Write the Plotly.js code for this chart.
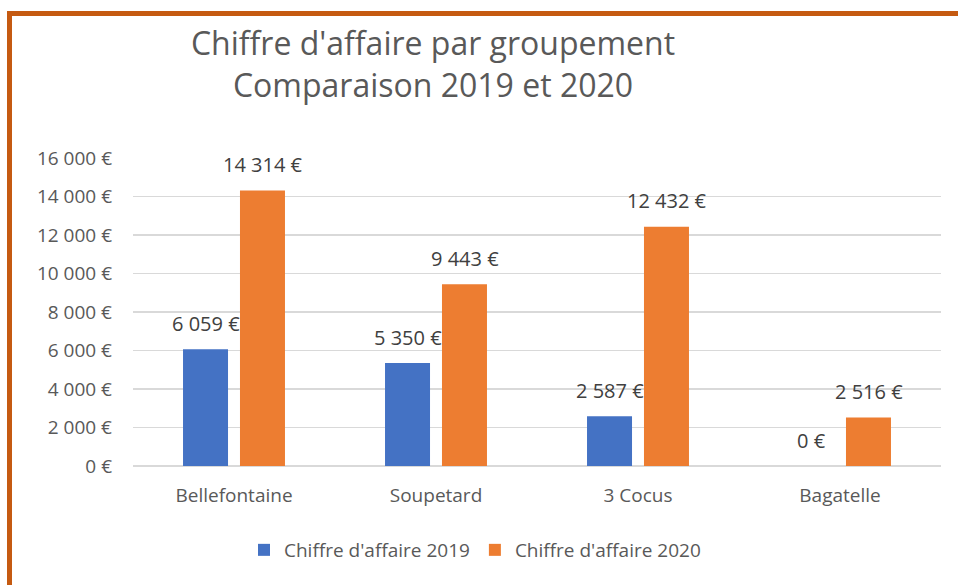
<!DOCTYPE html>
<html>
<head>
<meta charset="utf-8">
<script src="https://cdn.plot.ly/plotly-3.0.1.min.js"></script>
<style>
html,body{margin:0;padding:0;background:#fff;}
#chart{width:958px;height:585px;}
</style>
</head>
<body>
<div id="chart"></div>
<script>
const categories = ["Bellefontaine", "Soupetard", "3 Cocus", "Bagatelle"];
const values2019 = [6059, 5350, 2587, 0];
const values2020 = [14314, 9443, 12432, 2516];
const seriesNames = ["Chiffre d'affaire 2019", "Chiffre d'affaire 2020"];

function fmt(v) {
  return String(Math.round(v)).replace(/\B(?=(\d{3})+(?!\d))/g, " ") + " €";
}

const FONT = "Open Sans, Noto Sans, sans-serif";

const ML = 133, MR = 17, MT = 158, MB = 119;
const W = 958, H = 585;
const PW = W - ML - MR, PH = H - MT - MB;
const px2x = p => (p - ML) / PW;
const py2y = p => (H - MB - p) / PH;

const traces = [
  {type: "bar", name: seriesNames[0], x: categories, y: values2019,
   marker: {color: "#4472C4"}, hoverinfo: "skip"},
  {type: "bar", name: seriesNames[1], x: categories, y: values2020,
   marker: {color: "#ED7D31"}, hoverinfo: "skip"}
];

const annotations = [];
[values2019, values2020].forEach((vals, si) => {
  vals.forEach((v, i) => {
    annotations.push({
      x: categories[i], y: v, xref: "x", yref: "y",
      text: fmt(v), showarrow: false,
      xshift: si === 0 ? -28.5 : 28.5, yshift: 26,
      yanchor: "middle", xanchor: "center",
      font: {family: FONT, size: 20, color: "#404040"}
    });
  });
});

const bx = px2x(9.5), by = py2y(13.5), bb = py2y(600), br = px2x(970);
const shapes = [{
  type: "path", xref: "paper", yref: "paper",
  path: `M ${bx} ${bb} L ${bx} ${by} L ${br} ${by}`,
  line: {color: "#C55A11", width: 5}
}];

const layout = {
  width: W, height: H,
  margin: {l: ML, r: MR, t: MT, b: MB, pad: 0},
  paper_bgcolor: "#ffffff", plot_bgcolor: "#ffffff",
  separators: ", ",
  font: {family: FONT, color: "#595959", size: 20},
  title: {
    text: "Chiffre d'affaire par groupement<br>Comparaison 2019 et 2020",
    font: {family: FONT, size: 32, color: "#595959"},
    xref: "container", x: 433 / W, xanchor: "center",
    yref: "container", y: 1 - 55 / H, yanchor: "middle"
  },
  barmode: "group", bargap: 0.436, bargroupgap: 0.21,
  xaxis: {
    type: "category", showgrid: false, showline: false, ticks: "",
    tickfont: {family: FONT, size: 19, color: "#595959"}, ticklabelstandoff: 16
  },
  yaxis: {
    range: [0, 16000], dtick: 2000, tickformat: ",d", ticksuffix: " €",
    showgrid: true, gridcolor: "#d9d9d9", gridwidth: 1.5,
    zeroline: true, zerolinecolor: "#d9d9d9", zerolinewidth: 1.5,
    showline: false, ticks: "", ticklabelstandoff: 20,
    tickfont: {family: FONT, size: 19, color: "#595959"}
  },
  showlegend: true,
  legend: {
    orientation: "h", x: px2x(475), xanchor: "center",
    y: py2y(550), yanchor: "middle",
    font: {family: FONT, size: 19, color: "#595959"},
    traceorder: "normal"
  },
  annotations: annotations,
  shapes: shapes
};

Plotly.newPlot("chart", traces, layout, {displayModeBar: false, staticPlot: true});
</script>
</body>
</html>
